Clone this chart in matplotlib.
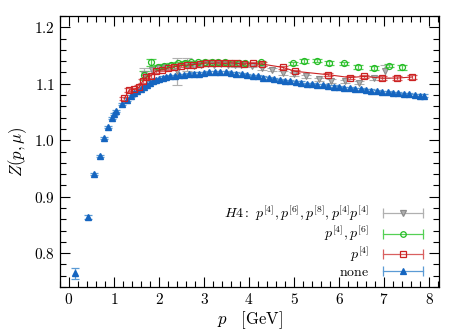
import matplotlib
matplotlib.use("Agg")
import matplotlib.pyplot as plt
from matplotlib.legend_handler import HandlerBase
from matplotlib.lines import Line2D
from matplotlib.ticker import MultipleLocator, FuncFormatter

plt.rcParams['mathtext.fontset'] = 'cm'
plt.rcParams['font.family'] = 'DejaVu Serif'

# none
p_none = [0.13, 0.42, 0.56, 0.69, 0.78, 0.87, 0.95, 1.00, 1.04, 1.17, 1.28, 1.37,
          1.45, 1.52, 1.60, 1.67, 1.74, 1.80, 1.87, 1.93, 2.00, 2.08, 2.16, 2.25,
          2.35, 2.45, 2.55, 2.66, 2.77, 2.88, 3.00, 3.12, 3.24, 3.36, 3.48, 3.60,
          3.72, 3.84, 3.96, 4.08, 4.20, 4.32, 4.44, 4.56, 4.68, 4.80, 4.92, 5.04,
          5.16, 5.28, 5.40, 5.52, 5.64, 5.76, 5.88, 6.00, 6.12, 6.24, 6.36, 6.48,
          6.60, 6.72, 6.84, 6.96, 7.08, 7.20, 7.32, 7.44, 7.56, 7.68, 7.80, 7.89]
z_none = [0.764, 0.864, 0.940, 0.972, 1.004, 1.024, 1.040, 1.046, 1.052, 1.064, 1.072, 1.078,
          1.083, 1.088, 1.091, 1.094, 1.098, 1.102, 1.104, 1.107, 1.109, 1.111, 1.112, 1.113,
          1.114, 1.115, 1.116, 1.117, 1.118, 1.118, 1.119, 1.120, 1.120, 1.120, 1.120, 1.119,
          1.118, 1.117, 1.116, 1.114, 1.113, 1.111, 1.110, 1.108, 1.107, 1.105, 1.104, 1.103,
          1.102, 1.100, 1.099, 1.098, 1.097, 1.096, 1.095, 1.094, 1.093, 1.092, 1.091, 1.090,
          1.089, 1.088, 1.087, 1.086, 1.085, 1.084, 1.083, 1.082, 1.081, 1.080, 1.079, 1.079]
e_none = [0.009, 0.004] + [0.002] * 70

# p^[4]
p_p4 = [1.23, 1.34, 1.45, 1.56, 1.64, 1.71, 1.82, 1.93, 2.06, 2.20, 2.34, 2.48, 2.62, 2.76,
        2.90, 3.04, 3.18, 3.32, 3.46, 3.60, 3.74, 3.88, 4.09, 4.28, 4.75, 5.03, 5.76, 6.24,
        6.56, 6.95, 7.29, 7.63]
z_p4 = [1.074, 1.089, 1.090, 1.094, 1.105, 1.112, 1.114, 1.122, 1.125, 1.128, 1.130, 1.132,
        1.133, 1.134, 1.135, 1.137, 1.136, 1.137, 1.136, 1.137, 1.136, 1.135, 1.136, 1.135,
        1.129, 1.122, 1.116, 1.111, 1.113, 1.110, 1.110, 1.112]
e_p4 = [0.003] * 32

# p^[4], p^[6]
p_p46 = [1.66, 1.82, 1.97, 2.12, 2.27, 2.42, 2.57, 2.72, 2.87, 3.02, 3.17, 3.32, 3.47,
         3.62, 3.77, 3.92, 4.27, 4.97, 5.22, 5.51, 5.77, 6.10, 6.42, 6.77, 7.12, 7.39]
z_p46 = [1.115, 1.138, 1.130, 1.132, 1.134, 1.136, 1.137, 1.138, 1.138, 1.139, 1.139, 1.138,
         1.138, 1.137, 1.137, 1.136, 1.138, 1.136, 1.140, 1.141, 1.137, 1.136, 1.130, 1.128,
         1.132, 1.129]
e_p46 = [0.008, 0.006] + [0.003] * 23 + [0.005]

# H4 full
p_h4 = [1.67, 1.85, 2.00, 2.15, 2.41, 2.63, 2.78, 2.93, 3.08, 3.23, 3.38, 3.53, 3.68,
        3.83, 4.07, 4.29, 4.52, 4.75, 5.00, 5.26, 5.55, 5.82, 6.13, 6.44, 6.77, 7.03]
z_h4 = [1.118, 1.125, 1.128, 1.130, 1.122, 1.134, 1.132, 1.134, 1.135, 1.134, 1.135, 1.134,
        1.133, 1.133, 1.132, 1.128, 1.125, 1.119, 1.117, 1.113, 1.108, 1.105, 1.104, 1.102,
        1.110, 1.122]
e_h4 = [0.010, 0.003, 0.003, 0.003, 0.024, 0.012] + [0.003] * 19 + [0.012]

blue, blue_l = '#1565c0', '#5b9bd5'
red, red_l = '#cc2222', '#d96060'
green, green_l = '#22bb22', '#55d055'
gray, gray_l = '#8c8c8c', '#b0b0b0'

fig = plt.figure(figsize=(4.63, 3.33), dpi=100)
ax = fig.add_axes([0.1296, 0.138, 0.8184, 0.814])

ax.errorbar(p_none, z_none, yerr=e_none, fmt='^', ms=4.5, color=blue, ecolor=blue_l,
            elinewidth=0.9, capsize=3, capthick=0.9)
ax.errorbar(p_h4, z_h4, yerr=e_h4, fmt='v', ms=4.3, mfc=gray_l, mec=gray, mew=0.8,
            ecolor=gray_l, elinewidth=0.9, capsize=3.5, capthick=0.9)
ax.errorbar(p_p46, z_p46, yerr=e_p46, fmt='o', ms=4.3, mfc='none', mec=green, mew=0.9,
            ecolor=green_l, elinewidth=0.9, capsize=3.5, capthick=0.9)
ax.errorbar(p_p4, z_p4, yerr=e_p4, fmt='s-', ms=4.6, mfc='none', mec=red, mew=0.9,
            color=red, lw=0.8, ecolor=red_l, elinewidth=0.9, capsize=3.5, capthick=0.9)

ax.set_xlim(-0.2, 8.22)
ax.set_ylim(0.74, 1.22)
ax.xaxis.set_major_locator(MultipleLocator(1))
ax.xaxis.set_minor_locator(MultipleLocator(0.2))
ax.yaxis.set_major_locator(MultipleLocator(0.1))
ax.yaxis.set_minor_locator(MultipleLocator(0.02))
ax.xaxis.set_major_formatter(FuncFormatter(lambda v, pos: r'$%d$' % round(v)))
ax.yaxis.set_major_formatter(FuncFormatter(lambda v, pos: r'$%.1f$' % v))
ax.tick_params(which='both', direction='in', top=True, right=True, labelsize=11)
ax.tick_params(which='major', length=7, width=0.8)
ax.tick_params(which='minor', length=4, width=0.8)
for s in ax.spines.values():
    s.set_linewidth(0.9)

ax.set_xlabel(r'$p\ \ \ [\mathrm{GeV}]$', fontsize=12, labelpad=2)
ax.set_ylabel(r'$Z(p,\mu)$', fontsize=12, labelpad=4)


class HBarHandler(HandlerBase):
    def create_artists(self, legend, orig, xd, yd, w, h, fs, trans):
        y = h / 2 - yd
        x0, x1 = -xd, -xd + w
        ecol = orig.get_gid()
        line = Line2D([x0, x1], [y, y], color=ecol, lw=0.9, transform=trans)
        caps = Line2D([x0, x1], [y, y], ls='none', marker='|', ms=7, mew=0.9,
                      color=ecol, transform=trans)
        mk = Line2D([(x0 + x1) / 2], [y], ls='none', marker=orig.get_marker(),
                    ms=orig.get_markersize(), mfc=orig.get_markerfacecolor(),
                    mec=orig.get_markeredgecolor(), mew=0.9, transform=trans)
        return [line, caps, mk]


h_h4 = Line2D([], [], marker='v', ms=4, mfc=gray_l, mec=gray, gid=gray_l)
h_p46 = Line2D([], [], marker='o', ms=4, mfc='none', mec=green, gid=green_l)
h_p4 = Line2D([], [], marker='s', ms=4, mfc='none', mec=red, gid=red_l)
h_none = Line2D([], [], marker='^', ms=4.5, mfc=blue, mec=blue, gid=blue_l)
labels = [r'$H4:\ p^{[4]}, p^{[6]}, p^{[8]}, p^{[4]}p^{[4]}$',
          r'$p^{[4]}, p^{[6]}$', r'$p^{[4]}$', r'$\mathrm{none}$']
handles = [h_h4, h_p46, h_p4, h_none]
ax.legend(handles, labels, handler_map={h: HBarHandler() for h in handles},
          loc='lower right', bbox_to_anchor=(0.958, 0.03), frameon=False,
          borderpad=0, borderaxespad=0,
          markerfirst=False, handlelength=2.9, labelspacing=0.08,
          handletextpad=1.0, fontsize=10)

fig.savefig('out.png', dpi=100)
